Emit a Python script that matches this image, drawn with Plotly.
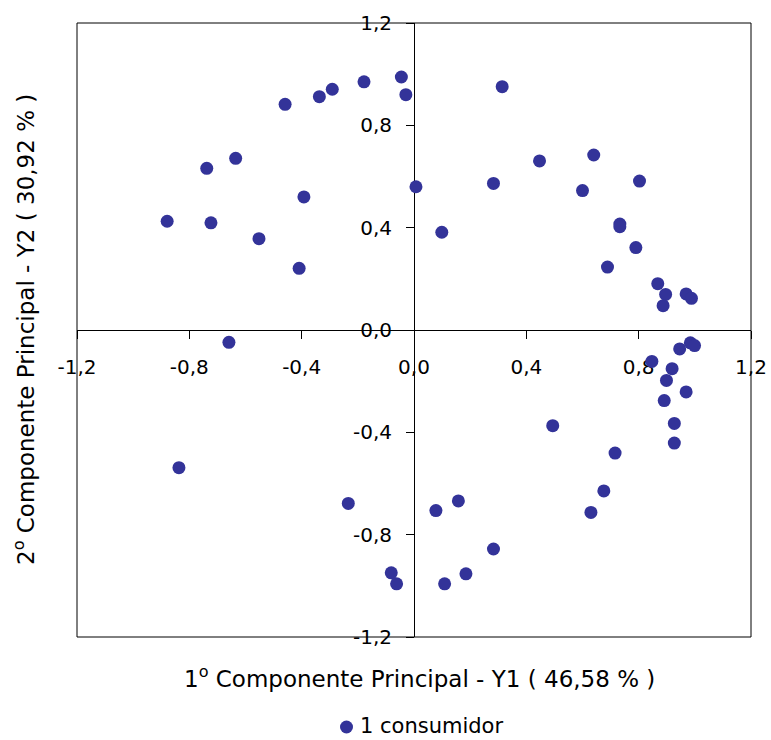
import plotly.graph_objects as go

# Scores on the first two principal components (Y1, Y2)
y1 = [-0.879, -0.723, -0.738, -0.635, -0.552, -0.409, -0.392, -0.459, -0.337, -0.291,
      -0.178, -0.045, -0.029, 0.007, 0.099, -0.659,
      0.314, 0.283, 0.447, 0.600, 0.640, 0.803, 0.733, 0.733, 0.790, 0.689,
      0.868, 0.896, 0.887, 0.969, 0.988,
      0.946, 0.984, 0.999, 0.847, 0.919, 0.899, 0.969, 0.891, 0.927, 0.927,
      0.494, 0.716, 0.676, 0.630, 0.078, 0.158, 0.283, 0.185, 0.109,
      -0.837, -0.234, -0.081, -0.062]
y2 = [0.425, 0.419, 0.632, 0.671, 0.357, 0.241, 0.520, 0.882, 0.912, 0.941,
      0.970, 0.989, 0.920, 0.560, 0.382, -0.048,
      0.951, 0.573, 0.661, 0.545, 0.684, 0.582, 0.414, 0.404, 0.322, 0.246,
      0.181, 0.139, 0.095, 0.141, 0.124,
      -0.074, -0.050, -0.061, -0.123, -0.151, -0.197, -0.242, -0.276, -0.365, -0.442,
      -0.374, -0.481, -0.629, -0.713, -0.706, -0.668, -0.856, -0.953, -0.992,
      -0.538, -0.678, -0.949, -0.992]

tick_vals = [-1.2, -0.8, -0.4, 0.0, 0.4, 0.8, 1.2]
tick_text = ["-1,2", "-0,8", "-0,4", "0,0", "0,4", "0,8", "1,2"]

series_name = "1 consumidor"
x_title = "1<sup>o</sup> Componente Principal - Y1 ( 46,58 % )"
y_title = "2<sup>o</sup> Componente Principal - Y2 ( 30,92 % )"

FONT = "DejaVu Sans, Liberation Sans, Arial, sans-serif"
DOT = "#333399"

# plot area in pixels
W, H = 771, 740
ML, MR, MT, MB = 77, 20, 23, 103
PW, PH = W - ML - MR, H - MT - MB


def px_to_paper(px, py):
    return (px - ML) / PW, (H - MB - py) / PH


fig = go.Figure()
fig.add_trace(go.Scatter(
    x=y1, y=y2, mode="markers", name=series_name,
    marker=dict(color=DOT, size=13, line=dict(width=0)),
    showlegend=False,
))

axis_common = dict(
    range=[-1.2, 1.2], tickvals=tick_vals, ticktext=tick_text,
    showgrid=False, zeroline=False, showline=True, linecolor="black", linewidth=1,
    ticks="outside", ticklen=8, tickcolor="black", tickwidth=1,
    tickfont=dict(family=FONT, size=20, color="black"),
    anchor="free", position=0.5, layer="below traces", fixedrange=True,
    automargin=False,
)

# legend entry: symbol + label below the x-axis title
leg_x, leg_y = px_to_paper(346.5, 727)
txt_x, _ = px_to_paper(359, 0)
_, txt_bottom = px_to_paper(0, 739)

fig.update_layout(
    width=W, height=H,
    margin=dict(l=ML, r=MR, t=MT, b=MB, autoexpand=False),
    paper_bgcolor="white", plot_bgcolor="white",
    font=dict(family=FONT, color="black"),
    xaxis=dict(axis_common, side="bottom", ticklabelstandoff=11),
    yaxis=dict(axis_common, side="left", ticklabelstandoff=10),
    showlegend=False,
    shapes=[
        dict(type="rect", xref="paper", yref="paper", x0=0, x1=1, y0=0, y1=1,
             line=dict(color="black", width=1), layer="below"),
        dict(type="circle", xref="paper", yref="paper", xsizemode="pixel",
             ysizemode="pixel", xanchor=leg_x, yanchor=leg_y,
             x0=-6.5, x1=6.5, y0=-6.5, y1=6.5,
             fillcolor=DOT, line=dict(width=0)),
    ],
    annotations=[
        dict(text=x_title, xref="paper", yref="paper", x=px_to_paper(419, 0)[0],
             y=px_to_paper(0, 677)[1],
             xanchor="center", yanchor="middle", showarrow=False,
             font=dict(family=FONT, size=23, color="black")),
        dict(text=y_title, xref="paper", yref="paper", x=px_to_paper(24, 0)[0],
             y=0.5, xanchor="center", yanchor="middle", showarrow=False,
             textangle=-90, font=dict(family=FONT, size=23, color="black")),
        dict(text=series_name, xref="paper", yref="paper", x=txt_x, y=txt_bottom,
             xanchor="left", yanchor="bottom", showarrow=False, borderpad=0,
             font=dict(family=FONT, size=21, color="black")),
    ],
)

fig.write_html("out.html")
